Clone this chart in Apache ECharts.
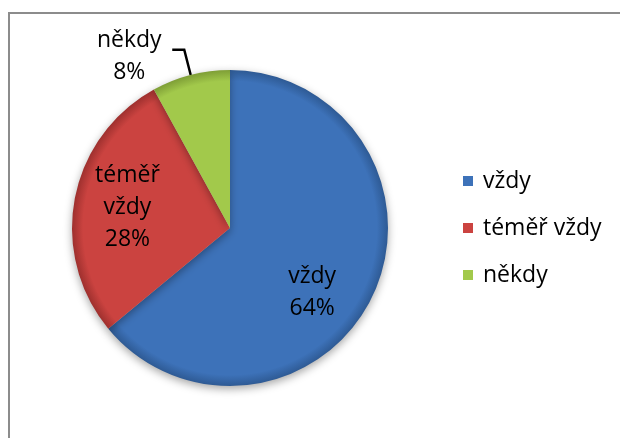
<!DOCTYPE html>
<html><head><meta charset="utf-8">
<script src="https://cdn.jsdelivr.net/npm/echarts@6/dist/echarts.min.js"></script>
<style>html,body{margin:0;padding:0;background:#fff}#c{width:620px;height:438px}</style>
</head><body><div id="c"></div>
<script>
const categories = ['vždy', 'téměř vždy', 'někdy'];
const values = [64, 28, 8];
const sliceLabels = ['vždy', 'téměř\nvždy', 'někdy'];

const colors = ['#3D72B9', '#CB4340', '#A2C94B'];
const rims = ['#2E5A94', '#9E302E', '#7E9E36'];
const FONT = "'Open Sans', 'Noto Sans', sans-serif";
const cx = 230, cy = 228, R = 158;

function grad(i){
  return {type:'radial', x:cx, y:cy, r:R, global:true,
    colorStops:[{offset:0,color:colors[i]},{offset:0.93,color:colors[i]},{offset:1,color:rims[i]}]};
}

const chart = echarts.init(document.getElementById('c'), null, {renderer:'canvas'});
chart.setOption({
  animation:false,
  graphic:[{type:'rect', shape:{x:9, y:13, width:640, height:460}, style:{fill:'none', stroke:'#8c8c8c', lineWidth:2}}],
  legend:{
    orient:'vertical', left:458, top:164, itemWidth:10, itemHeight:10, icon:'rect', itemGap:23,
    data:categories.map((c,i)=>({name:c, itemStyle:{color:colors[i]}})),
    textStyle:{fontFamily:FONT, fontSize:23, color:'#000', lineHeight:24, padding:[0,0,0,5]}
  },
  series:[{
    type:'pie', center:[cx,cy], radius:R, startAngle:90, clockwise:true,
    data:categories.map((c,i)=>({
      name:c, value:values[i],
      itemStyle:{color:grad(i)},
      label: i===2 ? {position:'outside', align:'center'} : {position:'inside'},
      labelLine: i===2 ? {show:true, length:26, length2:12, lineStyle:{color:'#000', width:2.5}} : {show:false}
    })),
    itemStyle:{shadowBlur:8, shadowColor:'rgba(0,0,0,0.35)', shadowOffsetY:3},
    label:{
      formatter:(p)=>sliceLabels[p.dataIndex]+'\n'+p.value+'%',
      fontFamily:FONT, fontSize:23, color:'#000', lineHeight:32
    },
    labelLayout:(p)=>{
      if(p.dataIndex===0) return {dx:8, dy:30};
      if(p.dataIndex===1) return {dx:-22, dy:-5};
      return {dx:-38, dy:7, align:'center'};
    },
    emphasis:{disabled:true}
  }]
});
</script></body></html>
